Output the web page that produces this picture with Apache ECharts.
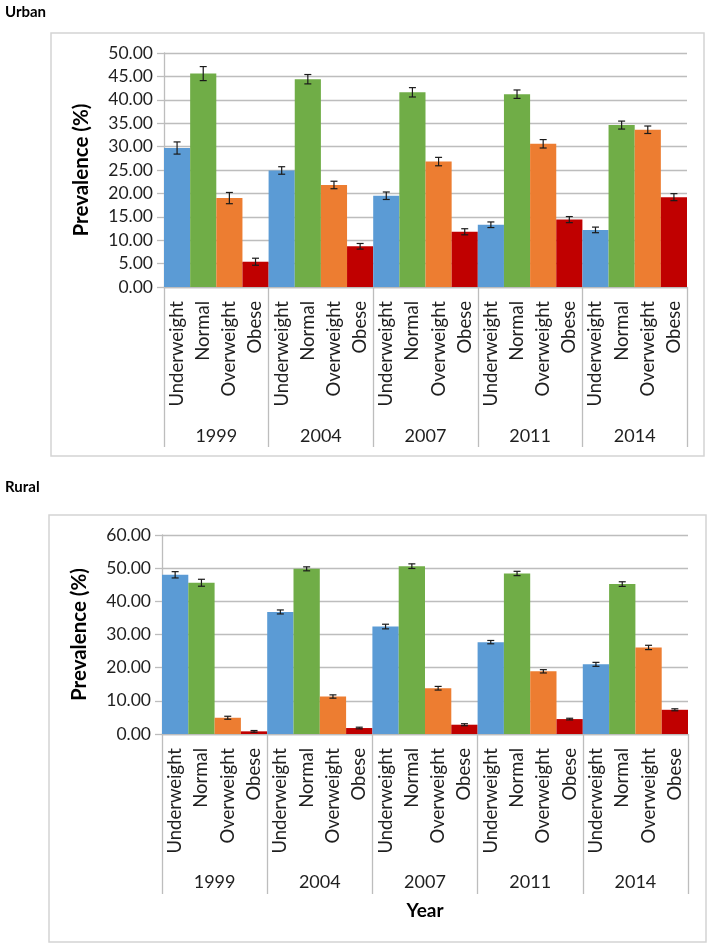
<!DOCTYPE html>
<html>
<head>
<meta charset="utf-8">
<script src="https://cdn.jsdelivr.net/npm/echarts@6/dist/echarts.min.js"></script>
<style>
html,body{margin:0;padding:0;background:#fff;}
#chart{width:708px;height:944px;}
</style>
</head>
<body>
<div id="chart"></div>
<script>
// ---- data ----
const years = ['1999', '2004', '2007', '2011', '2014'];
const categories = ['Underweight', 'Normal', 'Overweight', 'Obese'];

const urbanUnderweight = [29.7, 24.9, 19.5, 13.3, 12.2];
const urbanNormal      = [45.6, 44.4, 41.6, 41.2, 34.6];
const urbanOverweight  = [19.0, 21.8, 26.8, 30.6, 33.6];
const urbanObese       = [5.4, 8.7, 11.8, 14.4, 19.2];
const urbanUnderweightErr = [1.3, 0.8, 0.8, 0.6, 0.6];
const urbanNormalErr      = [1.5, 1.0, 1.0, 0.9, 0.85];
const urbanOverweightErr  = [1.2, 0.8, 0.9, 0.9, 0.8];
const urbanObeseErr       = [0.75, 0.6, 0.65, 0.65, 0.75];

const ruralUnderweight = [48.0, 36.8, 32.4, 27.7, 21.0];
const ruralNormal      = [45.6, 49.8, 50.6, 48.4, 45.2];
const ruralOverweight  = [4.9, 11.3, 13.8, 18.9, 26.1];
const ruralObese       = [0.8, 1.8, 2.8, 4.5, 7.3];
const ruralUnderweightErr = [0.95, 0.6, 0.7, 0.5, 0.6];
const ruralNormalErr      = [1.05, 0.6, 0.7, 0.65, 0.7];
const ruralOverweightErr  = [0.45, 0.5, 0.55, 0.5, 0.65];
const ruralObeseErr       = [0.25, 0.25, 0.3, 0.25, 0.3];

const urbanTicks = [0, 5, 10, 15, 20, 25, 30, 35, 40, 45, 50];
const ruralTicks = [0, 10, 20, 30, 40, 50, 60];

// ---- styling ----
const colors = ['#5B9BD5', '#70AD47', '#ED7D31', '#C00000'];
const FONT = 'Lato';
const TXT = '#1f1f1f';
const GRIDC = '#bdbdbd';

function buildFlat(series, errs) {
  const cats = [], bars = [], errors = [];
  years.forEach((y, yi) => {
    categories.forEach((c, ci) => {
      const idx = cats.length;
      cats.push(c);
      const v = series[ci][yi];
      const e = errs[ci][yi];
      bars.push({ value: v, itemStyle: { color: colors[ci] } });
      errors.push([idx, v - e, v + e]);
    });
  });
  return { cats, bars, errors };
}

const urban = buildFlat(
  [urbanUnderweight, urbanNormal, urbanOverweight, urbanObese],
  [urbanUnderweightErr, urbanNormalErr, urbanOverweightErr, urbanObeseErr]
);
const rural = buildFlat(
  [ruralUnderweight, ruralNormal, ruralOverweight, ruralObese],
  [ruralUnderweightErr, ruralNormalErr, ruralOverweightErr, ruralObeseErr]
);

function errRender(params, api) {
  const x = api.value(0);
  const lo = api.coord([x, api.value(1)]);
  const hi = api.coord([x, api.value(2)]);
  const hw = 3.5;
  const st = { stroke: '#1a1a1a', lineWidth: 1.2 };
  return {
    type: 'group',
    children: [
      { type: 'line', shape: { x1: hi[0], y1: hi[1], x2: lo[0], y2: lo[1] }, style: st },
      { type: 'line', shape: { x1: hi[0] - hw, y1: hi[1], x2: hi[0] + hw, y2: hi[1] }, style: st },
      { type: 'line', shape: { x1: lo[0] - hw, y1: lo[1], x2: lo[0] + hw, y2: lo[1] }, style: st }
    ]
  };
}

function catAxis(gridIndex, cats) {
  return {
    type: 'category', gridIndex, data: cats, position: 'bottom',
    axisLine: { show: true, lineStyle: { color: GRIDC, width: 1.3 } },
    axisTick: { show: false },
    axisLabel: { interval: 0, rotate: 90, margin: 14, fontFamily: FONT, fontSize: 18.5, color: TXT }
  };
}
function yearAxis(gridIndex, margin, len, name, nameGap) {
  return {
    type: 'category', gridIndex, data: years, position: 'bottom', offset: 0,
    axisLine: { show: false },
    axisTick: { show: true, interval: 0, length: len, lineStyle: { color: GRIDC, width: 1.3 } },
    axisLabel: { interval: 0, margin, fontFamily: FONT, fontSize: 18, color: TXT },
    name: name || '', nameLocation: 'middle', nameGap: nameGap || 0,
    nameTextStyle: { fontFamily: FONT, fontSize: 19, fontWeight: 'bold', color: '#000' }
  };
}
function valAxis(gridIndex, ticks) {
  return {
    type: 'value', gridIndex, min: ticks[0], max: ticks[ticks.length - 1],
    interval: ticks[1] - ticks[0],
    axisLine: { show: true, lineStyle: { color: GRIDC, width: 1.3 } },
    axisTick: { show: true, length: 7, lineStyle: { color: GRIDC, width: 1.3 } },
    splitLine: { show: true, lineStyle: { color: GRIDC, width: 1.3 } },
    axisLabel: { margin: 11, fontFamily: FONT, fontSize: 17.5, color: TXT,
      formatter: v => v.toFixed(2) },
    name: 'Prevalence (%)', nameLocation: 'middle', nameGap: 72,
    nameTextStyle: { fontFamily: FONT, fontSize: 20.5, fontWeight: 'bold', color: '#000' }
  };
}

const chart = echarts.init(document.getElementById('chart'), null, { renderer: 'canvas' });
chart.setOption({
  backgroundColor: '#fff',
  animation: false,
  title: [
    { text: 'Urban', left: 0, top: 0, textStyle: { fontFamily: FONT, fontSize: 15, fontWeight: 'bold', color: '#000' } },
    { text: 'Rural', left: 0, top: 475, textStyle: { fontFamily: FONT, fontSize: 15, fontWeight: 'bold', color: '#000' } }
  ],
  graphic: [
    { type: 'rect', shape: { x: 51, y: 33, width: 653, height: 423 }, style: { fill: 'none', stroke: '#d4d4d4', lineWidth: 1.5 }, z: -1 },
    { type: 'rect', shape: { x: 49, y: 515, width: 657, height: 427 }, style: { fill: 'none', stroke: '#d4d4d4', lineWidth: 1.5 }, z: -1 }
  ],
  grid: [
    { left: 164, right: 21, top: 53, height: 234, containLabel: false },
    { left: 162, right: 20, top: 535, height: 199, containLabel: false }
  ],
  xAxis: [
    catAxis(0, urban.cats),
    yearAxis(0, 140, 160),
    catAxis(1, rural.cats),
    yearAxis(1, 139, 160, 'Year', 167)
  ],
  yAxis: [valAxis(0, urbanTicks), valAxis(1, ruralTicks)],
  series: [
    { type: 'bar', xAxisIndex: 0, yAxisIndex: 0, data: urban.bars, barWidth: '100%', barGap: '0%', barCategoryGap: '0%', z: 2 },
    { type: 'custom', xAxisIndex: 0, yAxisIndex: 0, data: urban.errors, renderItem: errRender, z: 5 },
    { type: 'bar', xAxisIndex: 2, yAxisIndex: 1, data: rural.bars, barWidth: '100%', barGap: '0%', barCategoryGap: '0%', z: 2 },
    { type: 'custom', xAxisIndex: 2, yAxisIndex: 1, data: rural.errors, renderItem: errRender, z: 5 }
  ]
});
</script>
</body>
</html>
